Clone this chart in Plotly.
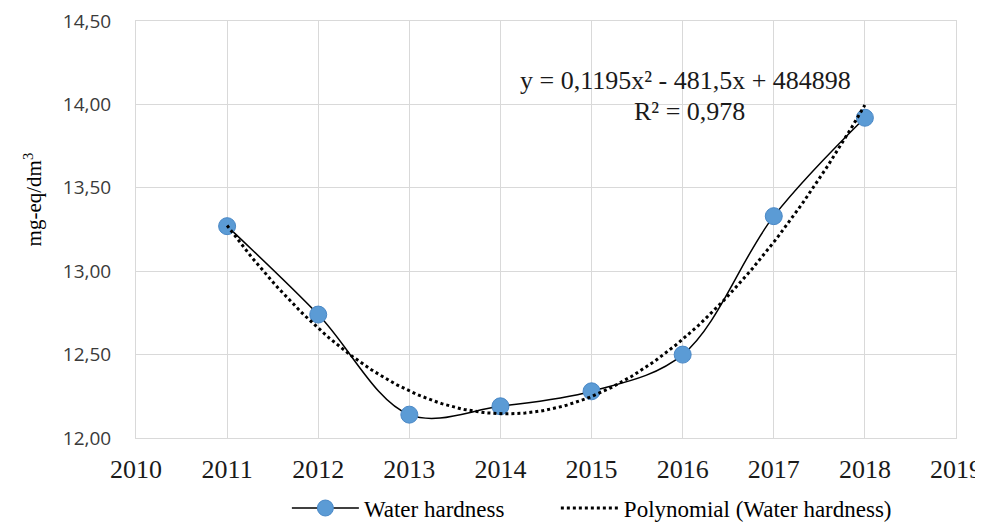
import numpy as np
import plotly.graph_objects as go

years = [2011, 2012, 2013, 2014, 2015, 2016, 2017, 2018]
hardness = [13.27, 12.74, 12.14, 12.19, 12.28, 12.50, 13.33, 13.92]
y_tickvals = [12.0, 12.5, 13.0, 13.5, 14.0, 14.5]
y_ticktext = ["12,00", "12,50", "13,00", "13,50", "14,00", "14,50"]
x_tickvals = [2010, 2011, 2012, 2013, 2014, 2015, 2016, 2017, 2018, 2019]
series_name = "Water hardness"
trend_name = "Polynomial (Water hardness)"
eq_text = "y = 0,1195x² - 481,5x + 484898"
r2_text = "R² = 0,978"
y_title = "mg-eq/dm<sup>3</sup>"

# quadratic least-squares trendline from the data
xa = np.array(years, dtype=float)
ya = np.array(hardness)
x0 = xa.mean()
coef = np.polyfit(xa - x0, ya, 2)
xt = np.linspace(years[0], years[-1], 200)
yt = np.polyval(coef, xt - x0)

serif = "Liberation Serif, Times New Roman, serif"

fig = go.Figure()
fig.add_trace(go.Scatter(
    x=years, y=hardness, name=series_name, mode="lines+markers", legend="legend",
    line=dict(color="black", width=1.5, shape="spline", smoothing=1.0),
    marker=dict(size=17, color="#5B9BD5", line=dict(color="#4A88C6", width=1)),
))
fig.add_trace(go.Scatter(
    x=xt, y=yt, name=trend_name, mode="lines", legend="legend2",
    line=dict(color="black", width=3, dash="dot"),
))

fig.add_annotation(x=2016.03, y=14.146, xref="x", yref="y", text=eq_text, showarrow=False,
                   font=dict(family=serif, size=26, color="#1a1a1a"))
fig.add_annotation(x=2016.07, y=13.96, xref="x", yref="y", text=r2_text, showarrow=False,
                   font=dict(family=serif, size=26, color="#1a1a1a"))
fig.add_annotation(x=-0.125, y=0.571, xref="paper", yref="paper", text=y_title, textangle=-90,
                   xanchor="center", yanchor="middle",
                   showarrow=False, font=dict(family=serif, size=21, color="black"))

legend_font = dict(family=serif, size=23, color="black")

fig.update_layout(
    width=983, height=522,
    margin=dict(l=128, r=35, t=13, b=92, autoexpand=False),
    paper_bgcolor="white", plot_bgcolor="white",
    showlegend=True,
    legend=dict(orientation="h", x=0.184, y=-0.168, xanchor="left", yanchor="middle",
                font=legend_font, itemwidth=67, bgcolor="rgba(0,0,0,0)"),
    legend2=dict(orientation="h", x=0.512, y=-0.168, xanchor="left", yanchor="middle",
                 font=legend_font, itemwidth=58, bgcolor="rgba(0,0,0,0)"),
    xaxis=dict(range=[2010, 2019], tickvals=x_tickvals, showgrid=True, gridcolor="#D9D9D9",
               gridwidth=1, zeroline=False, showline=True, linecolor="#D9D9D9", mirror=True,
               ticks="outside", ticklen=8, tickcolor="rgba(0,0,0,0)", automargin=False,
               ticklabeloverflow="allow",
               tickfont=dict(family=serif, size=26, color="#1a1a1a")),
    yaxis=dict(range=[12.0, 14.5], tickvals=y_tickvals, ticktext=y_ticktext, showgrid=True,
               gridcolor="#D9D9D9", gridwidth=1, zeroline=False, showline=True, linecolor="#D9D9D9",
               mirror=True, ticks="outside", ticklen=20, tickcolor="rgba(0,0,0,0)", automargin=False,
               ticklabeloverflow="allow",
               tickfont=dict(family="Open Sans", size=19, color="#3a3a3a")),
)

fig.write_html("out.html")
